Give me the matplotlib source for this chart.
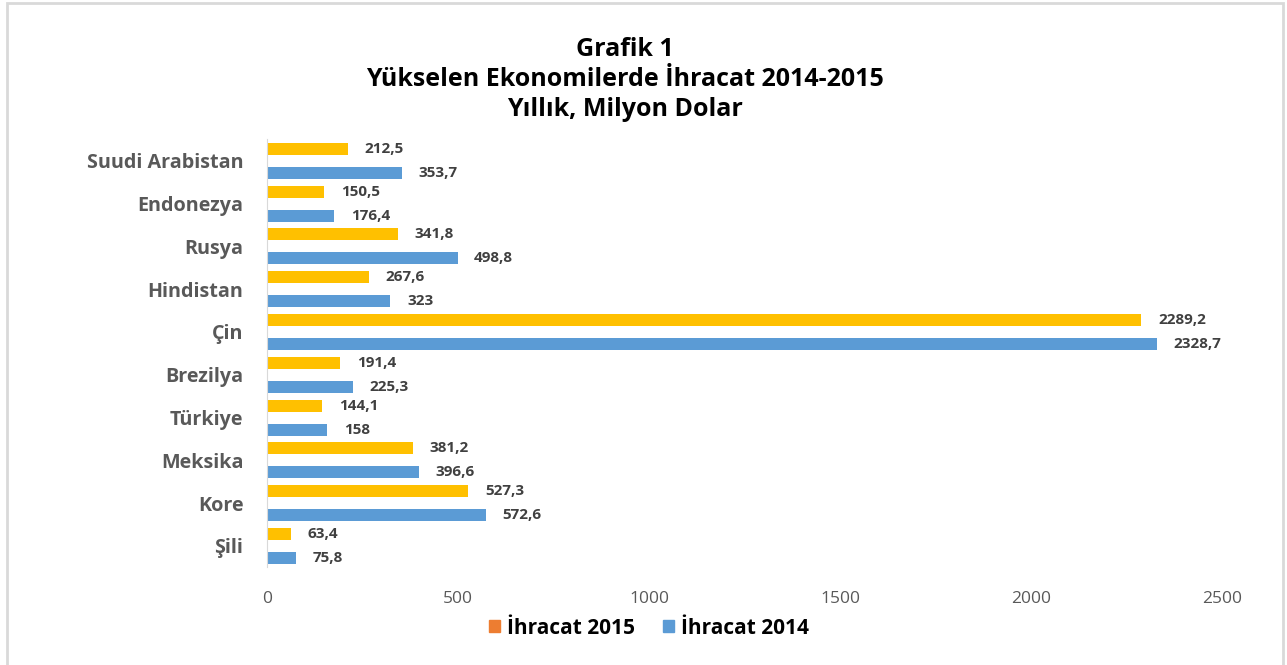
import matplotlib.pyplot as plt
from matplotlib.patches import Patch, Rectangle
import numpy as np

# data (bottom to top as drawn)
ulkeler = ["Şili", "Kore", "Meksika", "Türkiye", "Brezilya", "Çin",
           "Hindistan", "Rusya", "Endonezya", "Suudi Arabistan"]
ihracat_2015 = [63.4, 527.3, 381.2, 144.1, 191.4, 2289.2, 267.6, 341.8, 150.5, 212.5]
ihracat_2014 = [75.8, 572.6, 396.6, 158, 225.3, 2328.7, 323, 498.8, 176.4, 353.7]
xticks = [0, 500, 1000, 1500, 2000, 2500]

YELLOW = "#FFC000"
ORANGE = "#ED7D31"
BLUE = "#5B9BD5"
GREY = "#595959"
FONT = ["Open Sans", "DejaVu Sans"]

plt.rcParams["font.family"] = FONT

fig = plt.figure(figsize=(12.87, 6.65), dpi=100)
ax = fig.add_axes([267/1287, 1-567.4/665, 955/1287, 428/665])

y = np.arange(len(ulkeler))
h = 0.28
ax.barh(y+h, ihracat_2015, height=h, color=YELLOW)
ax.barh(y-h, ihracat_2014, height=h, color=BLUE)

def fmt(v):
    s = ("%.1f" % v).replace(".", ",")
    return s[:-2] if s.endswith(",0") else s

for yy, v in zip(y+h, ihracat_2015):
    ax.annotate(fmt(v), (v, yy), xytext=(12, 0), textcoords="offset points",
                va="center", ha="left", fontsize=11, fontweight="bold", color="#404040")
for yy, v in zip(y-h, ihracat_2014):
    ax.annotate(fmt(v), (v, yy), xytext=(12, 0), textcoords="offset points",
                va="center", ha="left", fontsize=11, fontweight="bold", color="#404040")

ax.set_xlim(0, 2500)
ax.set_ylim(-0.5, len(ulkeler)-0.5)
ax.set_xticks(xticks)
ax.set_xticklabels([str(t) for t in xticks], fontsize=12.5, color=GREY)
ax.set_yticks(y)
ax.set_yticklabels(ulkeler, fontsize=14.2, fontweight="bold", color=GREY)
ax.tick_params(axis="x", length=0, pad=17)
ax.tick_params(axis="y", length=0, pad=17)
for s in ["top", "right", "bottom"]:
    ax.spines[s].set_visible(False)
ax.spines["left"].set_color("#d9d9d9")

tx = 625/1287
fig.text(tx, 1-49/665, "Grafik 1", ha="center", va="center", fontsize=18, fontweight="bold")
fig.text(tx, 1-79/665, "Yükselen Ekonomilerde İhracat 2014-2015", ha="center", va="center",
         fontsize=18, fontweight="bold")
fig.text(tx, 1-109/665, "Yıllık, Milyon Dolar", ha="center", va="center", fontsize=18,
         fontweight="bold")

handles = [Patch(color=ORANGE, label="İhracat 2015"), Patch(color=BLUE, label="İhracat 2014")]
leg = fig.legend(handles=handles, loc="center", bbox_to_anchor=(649/1287, 1-628/665), ncol=2,
                 frameon=False, handlelength=0.55, handleheight=0.55, handletextpad=0.35,
                 columnspacing=1.3, prop={"family": FONT, "size": 15, "weight": "bold"})

fig.patches.append(Rectangle((7/1287, -0.02), 1276/1287, 1.02-3/665, transform=fig.transFigure,
                             fill=False, edgecolor="#d9d9d9", lw=2))

fig.savefig("out.png", dpi=100)
